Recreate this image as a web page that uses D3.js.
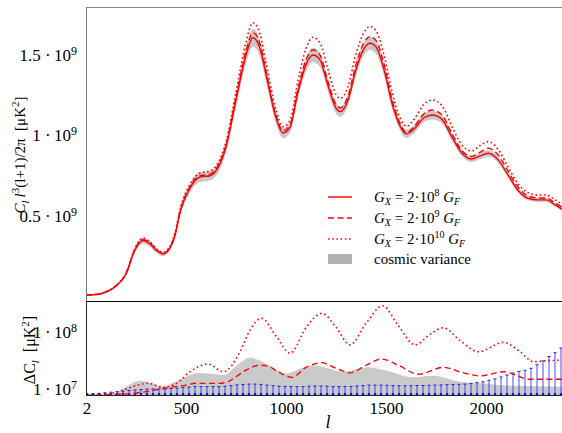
<!DOCTYPE html>
<html lang="en">
<head>
<meta charset="UTF-8">
<title>CMB spectrum, G_X comparison</title>
<script src="https://cdn.jsdelivr.net/npm/d3@7"></script>
<style>
  body { margin: 0; background: #fff; }
  svg text { font-family: "Liberation Serif", "LiberationSerif", Tinos, "DejaVu Serif", "Noto Serif", serif; fill: #000; }
</style>
</head>
<body>
<div id="chart"></div>
<script>
// ---- upper panel: C_l l^3 (l+1)/2pi, in units of 10^9 muK^2 ----
const ell = [2, 50, 100, 150, 200, 245, 285, 320, 355, 385, 415, 445, 470, 520, 570, 620, 660, 700, 750, 800, 835, 870,
  900, 950, 985, 1020, 1060, 1100, 1135, 1170, 1210, 1250, 1273, 1310, 1350, 1390, 1420, 1450, 1490, 1530, 1570, 1603,
  1640, 1690, 1732, 1780, 1830, 1880, 1928, 1970, 2012, 2060, 2110, 2160, 2210, 2260, 2300, 2340, 2380];
// G_X = 2e8 G_F
const spec8 = [0.009, 0.012, 0.028, 0.065, 0.14, 0.29, 0.348, 0.326, 0.283, 0.264, 0.292, 0.38, 0.52, 0.674, 0.742, 0.75, 0.80, 0.93, 1.22, 1.50, 1.607, 1.54,
  1.38, 1.11, 1.015, 1.05, 1.27, 1.44, 1.50, 1.47, 1.31, 1.17, 1.148, 1.22, 1.41, 1.54, 1.573, 1.55, 1.41, 1.20, 1.06, 1.01,
  1.04, 1.11, 1.127, 1.10, 0.99, 0.89, 0.854, 0.873, 0.89, 0.85, 0.755, 0.66, 0.61, 0.60, 0.60, 0.574, 0.543];
// G_X = 2e9 G_F
const spec9 = [0.009, 0.012, 0.029, 0.066, 0.142, 0.294, 0.353, 0.331, 0.287, 0.267, 0.296, 0.385, 0.526, 0.681, 0.75, 0.76, 0.81, 0.94, 1.235, 1.525, 1.638, 1.57,
  1.40, 1.125, 1.029, 1.065, 1.29, 1.47, 1.531, 1.50, 1.335, 1.193, 1.171, 1.245, 1.44, 1.578, 1.614, 1.59, 1.445, 1.225, 1.075, 1.018,
  1.055, 1.135, 1.158, 1.128, 1.012, 0.905, 0.87, 0.895, 0.921, 0.88, 0.78, 0.68, 0.625, 0.612, 0.612, 0.586, 0.555];
// G_X = 2e10 G_F
const spec10 = [0.009, 0.013, 0.030, 0.068, 0.146, 0.30, 0.362, 0.34, 0.294, 0.274, 0.303, 0.395, 0.54, 0.696, 0.767, 0.78, 0.83, 0.96, 1.27, 1.58, 1.70, 1.63,
  1.45, 1.16, 1.055, 1.095, 1.34, 1.54, 1.61, 1.575, 1.41, 1.255, 1.231, 1.305, 1.505, 1.64, 1.676, 1.65, 1.50, 1.27, 1.11, 1.057,
  1.10, 1.195, 1.22, 1.185, 1.055, 0.94, 0.904, 0.938, 0.962, 0.915, 0.805, 0.70, 0.645, 0.63, 0.63, 0.604, 0.573];
// half width of the cosmic variance band
const cvHalf = [0.006, 0.002, 0.004, 0.005, 0.01, 0.018, 0.02, 0.018, 0.015, 0.013, 0.014, 0.018, 0.024, 0.03, 0.031, 0.03, 0.031, 0.035, 0.045, 0.053, 0.056, 0.052,
  0.046, 0.036, 0.032, 0.033, 0.039, 0.043, 0.045, 0.043, 0.038, 0.033, 0.032, 0.034, 0.038, 0.041, 0.042, 0.041, 0.037, 0.031, 0.027, 0.025,
  0.026, 0.027, 0.027, 0.026, 0.023, 0.021, 0.019, 0.02, 0.02, 0.019, 0.016, 0.014, 0.013, 0.013, 0.012, 0.012, 0.011];

// ---- lower panel: Delta C_l [muK^2] ----
const cvEll   = [2, 100, 150, 200, 270, 320, 378, 450, 560, 620, 690, 750, 820, 900, 1003, 1060, 1135, 1210, 1285, 1350, 1410, 1500, 1635, 1735, 1870, 2000, 2100, 2380];
const cvDelta = [7.0e6, 7.3e6, 8.5e6, 1.1e7, 1.4e7, 1.3e7, 1.1e7, 1.35e7, 1.9e7, 1.85e7, 1.75e7, 2.5e7, 3.5e7, 2.8e7, 1.87e7, 2.2e7, 2.6e7, 2.3e7, 2.0e7, 2.2e7, 2.4e7, 2.1e7, 1.6e7, 1.7e7, 1.34e7, 1.24e7, 1.15e7, 1.1e7];

const d9Ell   = [2, 200, 300, 400, 500, 550, 650, 700, 750, 800, 870, 910, 960, 1030, 1100, 1178, 1250, 1320, 1400, 1478, 1570, 1662, 1787, 1880, 1970, 2087, 2220, 2380];
const d9Delta = [7.8e6, 8.2e6, 9.0e6, 1.04e7, 1.17e7, 1.26e7, 1.25e7, 1.3e7, 1.64e7, 2.14e7, 2.6e7, 2.5e7, 2.0e7, 1.6e7, 2.39e7, 2.88e7, 2.3e7, 1.92e7, 2.6e7, 3.34e7, 2.5e7, 1.81e7, 2.39e7, 1.95e7, 1.69e7, 2.0e7, 1.48e7, 1.48e7];

const d10Ell   = [2, 100, 185, 250, 310, 385, 453, 520, 610, 687, 770, 820, 878, 953, 1020, 1103, 1180, 1250, 1320, 1400, 1483, 1560, 1645, 1720, 1787, 1870, 1962, 2087, 2170, 2237, 2300, 2380];
const d10Delta = [7.6e6, 8.0e6, 9.6e6, 1.15e7, 1.26e7, 1.07e7, 1.26e7, 2.0e7, 2.73e7, 2.0e7, 4.47e7, 1.07e8, 1.71e8, 8.2e7, 4.2e7, 1.22e8, 2.09e8, 1.2e8, 5.9e7, 1.4e8, 2.84e8, 1.3e8, 5.9e7, 9.0e7, 1.17e8, 7.0e7, 4.47e7, 6.5e7, 4.5e7, 3.0e7, 3.1e7, 3.2e7];

// error bars (every 30 multipoles): upper end, centre sits just above the axis
const errEll = d3.range(5, 2380, 30);
const errTop = [8.0e6, 8.2e6, 8.4e6, 8.6e6, 8.8e6, 9.0e6, 9.2e6, 9.4e6, 9.6e6, 9.8e6,
  1.0e7, 1.0e7, 1.0e7, 1.0e7, 1.02e7, 1.04e7, 1.06e7, 1.08e7, 1.1e7, 1.1e7,
  1.1e7, 1.1e7, 1.1e7, 1.12e7, 1.15e7, 1.18e7, 1.2e7, 1.22e7, 1.22e7, 1.2e7,
  1.17e7, 1.14e7, 1.12e7, 1.11e7, 1.1e7, 1.1e7, 1.1e7, 1.12e7, 1.13e7, 1.13e7,
  1.12e7, 1.1e7, 1.1e7, 1.1e7, 1.11e7, 1.13e7, 1.15e7, 1.17e7, 1.17e7, 1.17e7,
  1.16e7, 1.15e7, 1.14e7, 1.14e7, 1.14e7, 1.15e7, 1.15e7, 1.16e7, 1.17e7, 1.18e7,
  1.19e7, 1.2e7, 1.21e7, 1.22e7, 1.25e7, 1.29e7, 1.34e7, 1.42e7, 1.5e7, 1.62e7,
  1.75e7, 1.9e7, 2.02e7, 2.12e7, 2.3e7, 2.65e7, 3.1e7, 3.7e7, 4.3e7, 5.2e7];
const errCentre = 8.1e6;

const xTicks = [2, 500, 1000, 1500, 2000];
const topTicks = [0.5, 1, 1.5];
const botTicks = [1e7, 1e8];

// ---- layout ----
const width = 562, height = 433;
const left = 86, right = 562;
const topY0 = 7, sepY = 301, botY1 = 396;
const serif = '"Liberation Serif", "LiberationSerif", Tinos, "DejaVu Serif", "Noto Serif", serif';

const svg = d3.select("#chart").append("svg")
  .attr("width", width).attr("height", height)
  .attr("font-family", serif);

const x = d3.scaleLinear().domain([0, 2380]).range([left, right]);
const yTop = d3.scaleLinear().domain([-0.028, 1.798]).range([sepY, topY0]);
const yBot = d3.scaleLog().domain([7.55e6, 3.44e8]).range([botY1, sepY]);

const defs = svg.append("defs");
defs.append("clipPath").attr("id", "clipTop").append("rect")
  .attr("x", left).attr("y", topY0).attr("width", right - left).attr("height", sepY - topY0);
defs.append("clipPath").attr("id", "clipBot").append("rect")
  .attr("x", left).attr("y", sepY).attr("width", right - left).attr("height", botY1 - sepY);

const red = "#ff0000";
const idx = d3.range(ell.length);

// upper panel
const gTop = svg.append("g").attr("clip-path", "url(#clipTop)");

gTop.append("path")
  .attr("d", d3.area()
    .x(i => x(ell[i]))
    .y0(i => yTop(spec8[i] - cvHalf[i]))
    .y1(i => yTop(spec8[i] + cvHalf[i]))
    .curve(d3.curveMonotoneX)(idx))
  .attr("fill", "#c8c8c8");

const topLine = s => d3.line().x(i => x(ell[i])).y(i => yTop(s[i])).curve(d3.curveMonotoneX)(idx);

gTop.append("path").attr("d", topLine(spec10)).attr("fill", "none")
  .attr("stroke", red).attr("stroke-width", 1.6).attr("stroke-dasharray", "1.6,2.6");
gTop.append("path").attr("d", topLine(spec9)).attr("fill", "none")
  .attr("stroke", red).attr("stroke-width", 1.4).attr("stroke-dasharray", "6,3.5");
gTop.append("path").attr("d", topLine(spec8)).attr("fill", "none")
  .attr("stroke", red).attr("stroke-width", 1.4);

// lower panel
const gBot = svg.append("g").attr("clip-path", "url(#clipBot)");

gBot.append("path")
  .attr("d", d3.area()
    .x((d, i) => x(cvEll[i]))
    .y0(botY1 + 5)
    .y1(d => yBot(d))
    .curve(d3.curveMonotoneX)(cvDelta))
  .attr("fill", "#cacaca");

const bars = gBot.append("g");
errEll.forEach((l, i) => {
  const bx = x(l), ty = yBot(errTop[i]);
  bars.append("line").attr("x1", bx).attr("x2", bx).attr("y1", botY1 + 5).attr("y2", ty)
    .attr("stroke", "#3b3bf5").attr("stroke-width", 1.1).attr("stroke-opacity", 0.85);
  bars.append("line").attr("x1", bx - 1.6).attr("x2", bx + 1.6).attr("y1", ty).attr("y2", ty)
    .attr("stroke", "#2020e0").attr("stroke-width", 1);
  bars.append("rect").attr("x", bx - 1.2).attr("y", yBot(errCentre) - 1.2)
    .attr("width", 2.4).attr("height", 2.4).attr("fill", "#1010e8");
});

const botLine = (ls, vs) => d3.line().x((d, i) => x(ls[i])).y(d => yBot(d)).curve(d3.curveMonotoneX)(vs);

gBot.append("path").attr("d", botLine(d9Ell, d9Delta)).attr("fill", "none")
  .attr("stroke", red).attr("stroke-width", 1.3).attr("stroke-dasharray", "6,3.5");
gBot.append("path").attr("d", botLine(d10Ell, d10Delta)).attr("fill", "none")
  .attr("stroke", red).attr("stroke-width", 1.6).attr("stroke-dasharray", "1.6,2.8");

// frames
svg.append("line").attr("x1", left).attr("x2", right).attr("y1", topY0 + 0.5).attr("y2", topY0 + 0.5)
  .attr("stroke", "#888").attr("stroke-width", 1);
svg.append("line").attr("x1", left + 0.5).attr("x2", left + 0.5).attr("y1", topY0).attr("y2", sepY)
  .attr("stroke", "#777").attr("stroke-width", 1);
svg.append("line").attr("x1", left + 0.5).attr("x2", left + 0.5).attr("y1", sepY).attr("y2", botY1)
  .attr("stroke", "#222").attr("stroke-width", 1);
svg.append("line").attr("x1", left).attr("x2", right).attr("y1", sepY + 0.5).attr("y2", sepY + 0.5)
  .attr("stroke", "#000").attr("stroke-width", 1.2);
svg.append("line").attr("x1", left).attr("x2", right).attr("y1", botY1 - 0.5).attr("y2", botY1 - 0.5)
  .attr("stroke", "#222").attr("stroke-width", 1.2);

// axes
function supLabel(sel, base, exp) {
  sel.text(null);
  sel.append("tspan").text(base);
  sel.append("tspan").attr("dy", -6).attr("font-size", 12).text(exp);
}

function styleAxis(g) {
  g.attr("font-family", serif).attr("font-size", 17);
  g.select(".domain").remove();
}

const axTop = svg.append("g").attr("transform", `translate(${left},0)`)
  .call(d3.axisLeft(yTop).tickValues(topTicks).tickSize(0).tickPadding(9))
  .call(styleAxis);
axTop.selectAll("text")
  .each(function (d) { supLabel(d3.select(this), d + "\u2005·\u200910", "9"); });

const axBot = svg.append("g").attr("transform", `translate(${left},0)`)
  .call(d3.axisLeft(yBot).tickValues(botTicks).tickSize(0).tickPadding(9))
  .call(styleAxis);
axBot.selectAll("text")
  .each(function (d) { supLabel(d3.select(this), "1\u2009·\u200910", String(Math.round(Math.log10(d)))); });

const axX = svg.append("g").attr("transform", `translate(0,${botY1})`)
  .call(d3.axisBottom(x).tickValues(xTicks).tickSize(0).tickPadding(6).tickFormat(d3.format("d")))
  .call(styleAxis);

// axis titles
svg.append("text").attr("x", 328).attr("y", 428).attr("text-anchor", "middle")
  .attr("font-size", 18).attr("font-style", "italic").text("l");

const t1 = svg.append("text").attr("transform", "translate(25,155) rotate(-90)")
  .attr("text-anchor", "middle").attr("font-size", 15);
t1.append("tspan").attr("font-style", "italic").text("C");
t1.append("tspan").attr("font-style", "italic").attr("font-size", 11).attr("dy", 4).text("l");
t1.append("tspan").attr("dy", -4).text("\u2009");
t1.append("tspan").attr("font-style", "italic").text("l");
t1.append("tspan").attr("font-size", 11).attr("dy", -6).text("3");
t1.append("tspan").attr("dy", 6).text("(l+1)/2π\u00a0\u00a0[μK");
t1.append("tspan").attr("font-size", 11).attr("dy", -6).text("2");
t1.append("tspan").attr("dy", 6).text("]");

const t2 = svg.append("text").attr("transform", "translate(35,350) rotate(-90)")
  .attr("text-anchor", "middle").attr("font-size", 16);
t2.append("tspan").text("ΔC");
t2.append("tspan").attr("font-style", "italic").attr("font-size", 11).attr("dy", 4).text("l");
t2.append("tspan").attr("dy", -4).text("\u00a0\u00a0[μK");
t2.append("tspan").attr("font-size", 11).attr("dy", -6).text("2");
t2.append("tspan").attr("dy", 6).text("]");

// legend
const legRows = [
  {exp: "8", dash: null},
  {exp: "9", dash: "6,3.5"},
  {exp: "10", dash: "1.6,2.6"}
];
const legY = [197, 218, 239];
const leg = svg.append("g");
legRows.forEach((r, i) => {
  leg.append("line").attr("x1", 328).attr("x2", 352).attr("y1", legY[i]).attr("y2", legY[i])
    .attr("stroke", red).attr("stroke-width", r.dash === "1.6,2.6" ? 1.6 : 1.4)
    .attr("stroke-dasharray", r.dash);
  const t = leg.append("text").attr("x", 374).attr("y", legY[i] + 5).attr("font-size", 15);
  t.append("tspan").attr("font-style", "italic").text("G");
  t.append("tspan").attr("font-style", "italic").attr("font-size", 10).attr("dy", 3).text("X");
  t.append("tspan").attr("dy", -3).text(" = 2·10");
  t.append("tspan").attr("font-size", 10).attr("dy", -6).text(r.exp);
  t.append("tspan").attr("dy", 6).attr("font-style", "italic").text("\u00a0G");
  t.append("tspan").attr("font-style", "italic").attr("font-size", 10).attr("dy", 3).text("F");
});
leg.append("rect").attr("x", 328).attr("y", 254).attr("width", 24).attr("height", 10).attr("fill", "#b2b2b2");
leg.append("text").attr("x", 374).attr("y", 264).attr("font-size", 15).text("cosmic variance");
</script>
</body>
</html>
